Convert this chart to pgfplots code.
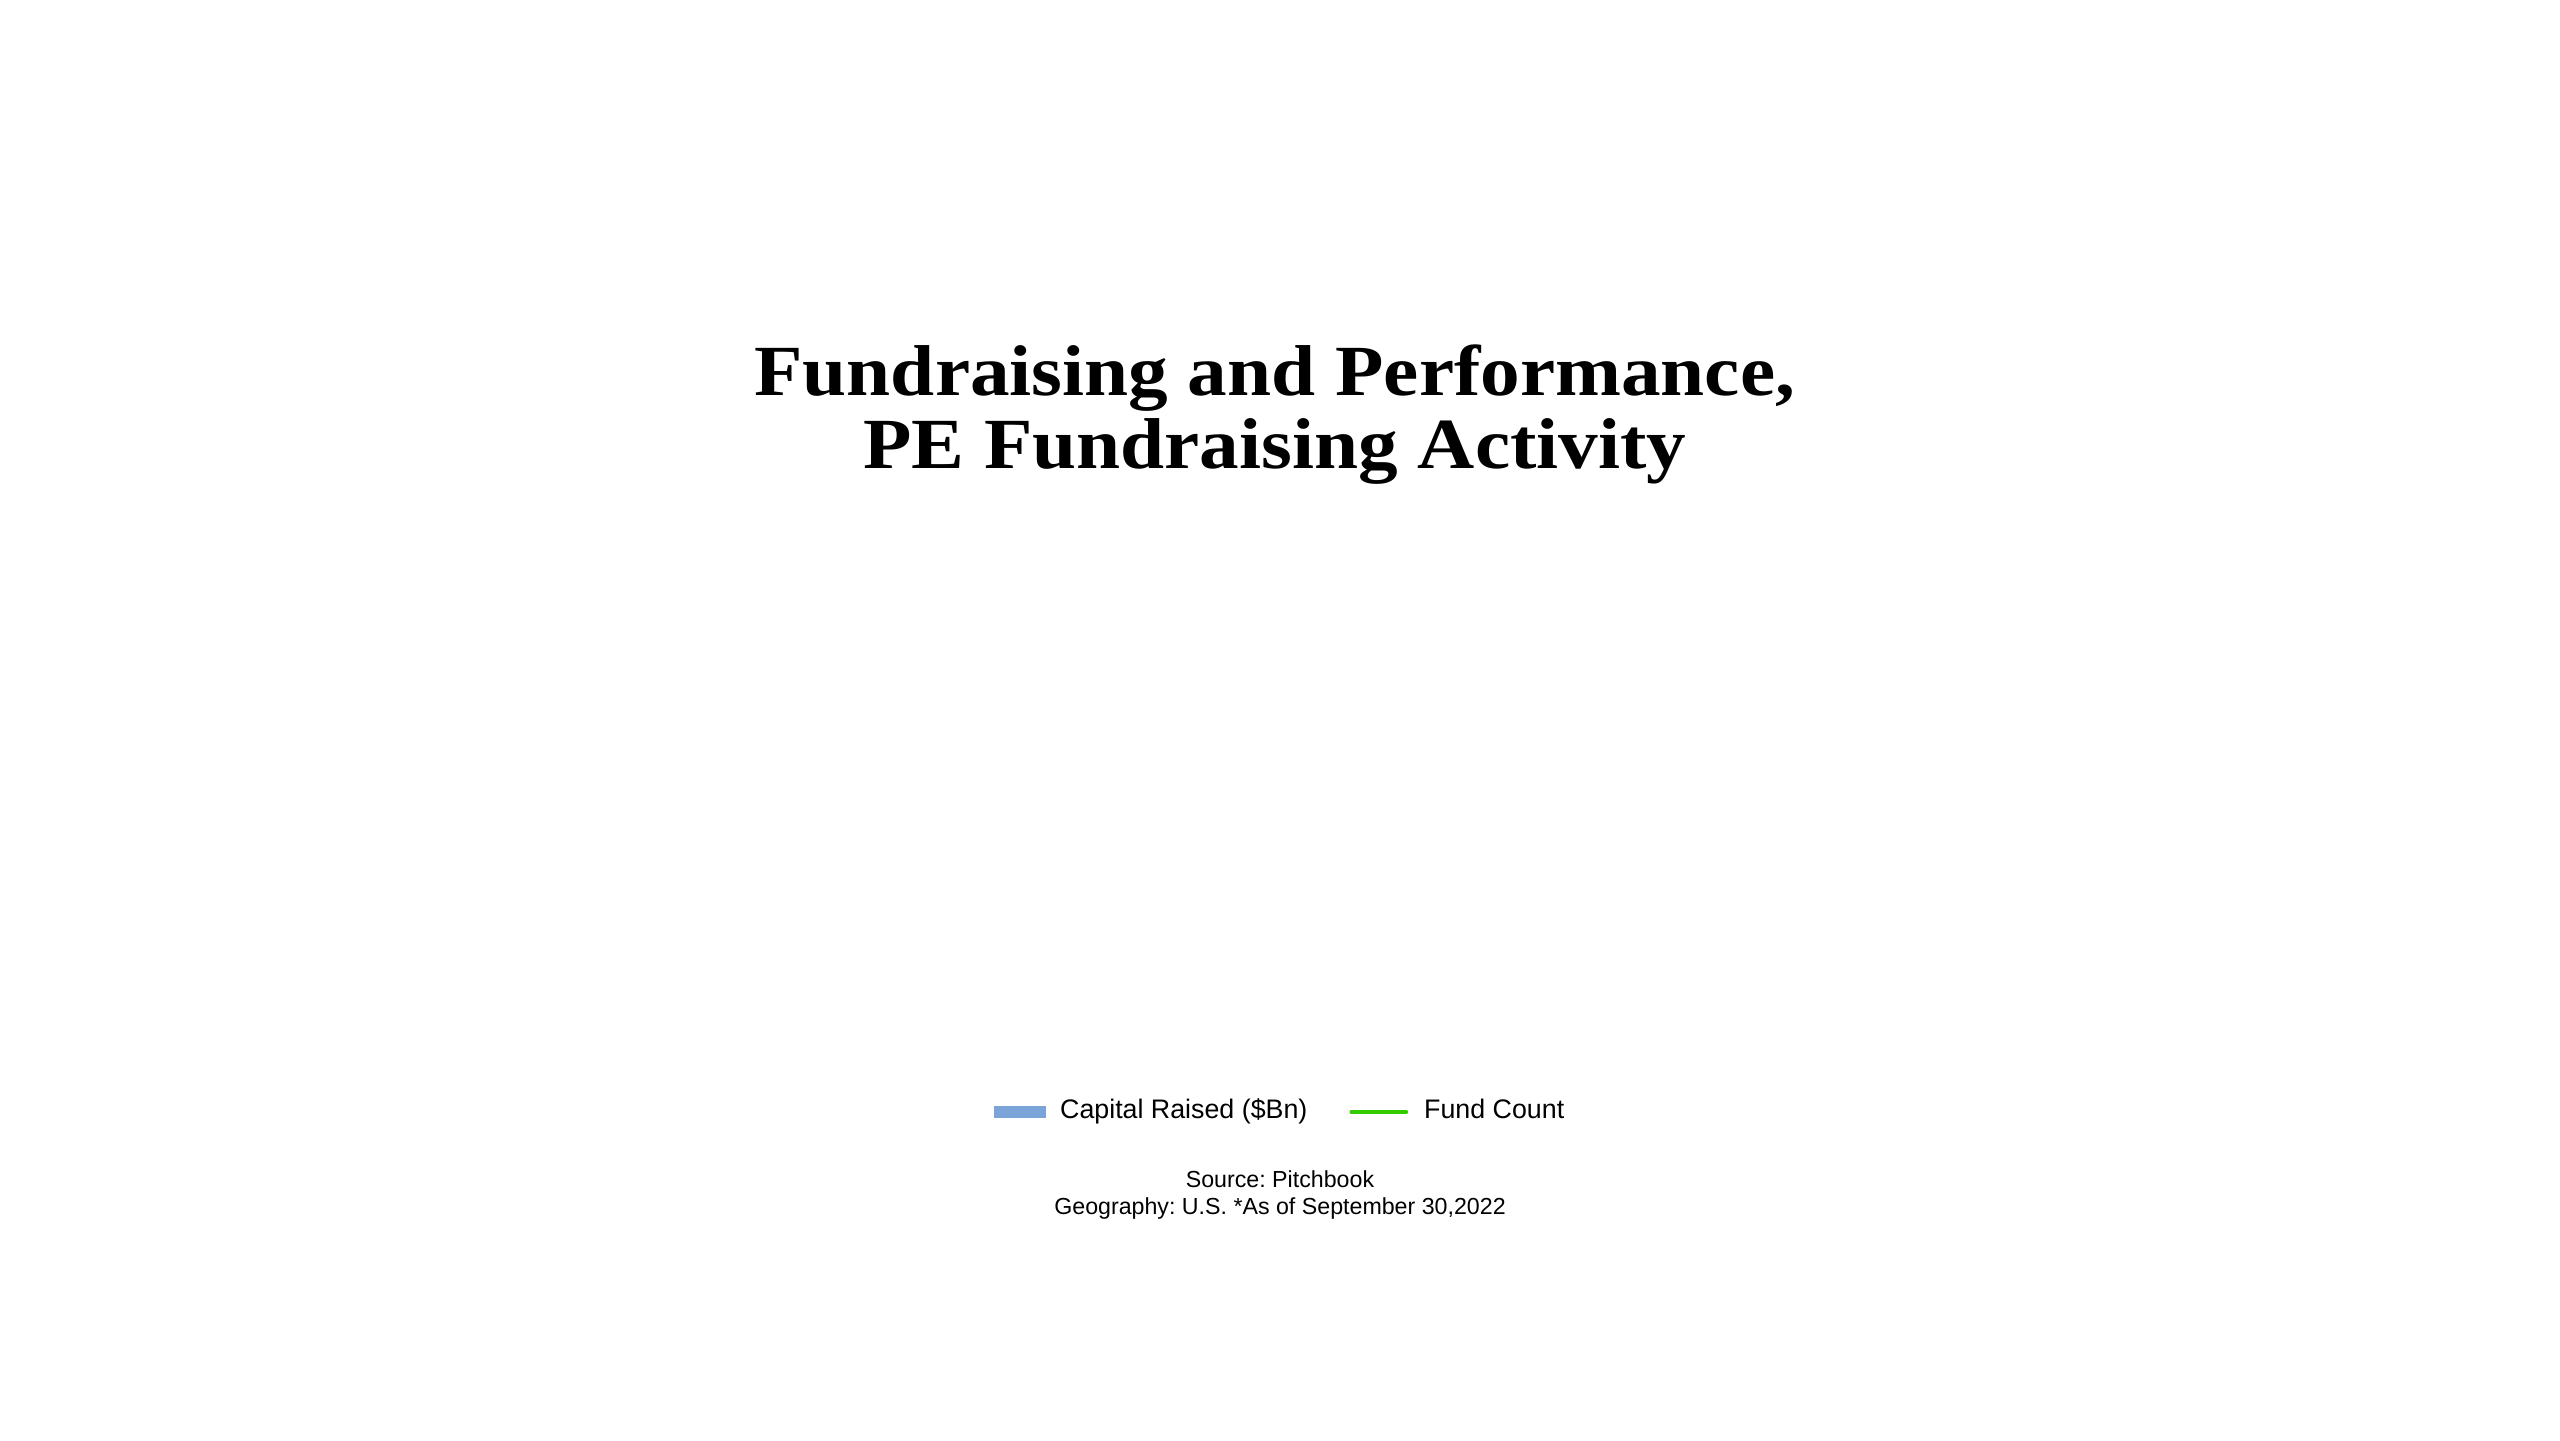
\documentclass[border=0pt]{standalone}
\usepackage{fontspec}
\setmainfont{Liberation Sans}
\newfontfamily\titlefont[FakeStretch=1.1]{Liberation Serif}
\usepackage{pgfplots}
\pgfplotsset{compat=1.18}
\definecolor{capblue}{HTML}{7BA5D8}
\definecolor{cntgreen}{HTML}{33CC00}
\frenchspacing
\begin{document}
\frenchspacing
\begin{tikzpicture}
\begin{axis}[
  scale only axis,
  width=640pt, height=360pt,
  xmin=0, xmax=640, ymin=0, ymax=360,
  hide axis,
  clip=false,
  legend columns=2,
  legend style={
    at={(axis cs:320,82)}, anchor=center,
    draw=none, fill=none,
    font=\frenchspacing\fontsize{6.7}{8}\selectfont,
    /tikz/every even column/.append style={column sep=8.5pt},
  },
]
\path (axis cs:0,0) rectangle (axis cs:640,360);
\addlegendimage{legend image code/.code={\draw[capblue, line width=2.9pt] (0pt,0pt) -- (13.2pt,0pt);}}
\addlegendentry{Capital Raised (\$Bn)}
\addlegendimage{legend image code/.code={\draw[cntgreen, line width=1pt, line cap=round] (0.3pt,0pt) -- (14pt,0pt); \path (16.3pt,0pt);}}
\addlegendentry{Fund Count}
\node[anchor=base, inner sep=0pt, font=\titlefont\bfseries\fontsize{18}{18}\selectfont] at (axis cs:318.7,261.25) {Fundraising and Performance,};
\node[anchor=base, inner sep=0pt, font=\titlefont\bfseries\fontsize{18}{18}\selectfont] at (axis cs:318.7,243) {PE Fundraising Activity};
\node[anchor=base, inner sep=0pt, font=\frenchspacing\fontsize{5.8}{7}\selectfont] at (axis cs:320,63.25) {Source: Pitchbook};
\node[anchor=base, inner sep=0pt, font=\frenchspacing\fontsize{5.8}{7}\selectfont] at (axis cs:320,56.5) {Geography: U.S. *As of September 30,2022};
\end{axis}
\end{tikzpicture}
\end{document}
